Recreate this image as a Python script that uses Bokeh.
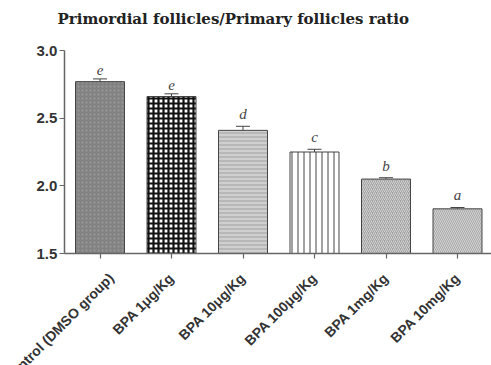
import math
from bokeh.plotting import figure
from bokeh.models import ColumnDataSource, Range1d, FixedTicker, NumeralTickFormatter, Whisker, Label
from bokeh.core.properties import value
from bokeh.embed import file_html
from bokeh.resources import INLINE

groups = ["Control (DMSO group)", "BPA 1μg/Kg", "BPA 10μg/Kg", "BPA 100μg/Kg", "BPA 1mg/Kg", "BPA 10mg/Kg"]
ratio = [2.77, 2.66, 2.41, 2.25, 2.05, 1.83]
sem = [0.02, 0.02, 0.03, 0.02, 0.01, 0.01]
letters = ["e", "e", "d", "c", "b", "a"]
y_ticks = [1.5, 2.0, 2.5, 3.0]
title = "Primordial follicles/Primary follicles ratio"

fills = ["#828282", "#ffffff", "#b8b8b8", "#ffffff", "#a2a2a2", "#a8a8a8"]
patterns = ["dot", "cross", "horizontal_line", "vertical_line", "right_diagonal_line", "left_diagonal_line"]
hcolors = ["#9a9a9a", "#111111", "#e6e6e6", "#444444", "#d2d2d2", "#d4d4d4"]
hscales = [4, 5, 4, 6, 4, 4]
hweights = [1, 2.2, 1, 1, 1, 1]

W, H = 491, 365
# layout targets (pixels): axis box left/right/top/bottom
ax_left, ax_right, ax_top, ax_bottom = 63.75, 492.75, 50, 253
n = len(groups)
px_per_x = (ax_right - ax_left) / n
px_per_y = (ax_bottom - ax_top) / (y_ticks[-1] - y_ticks[0])
x0 = -0.5 - ax_left / px_per_x
x1 = x0 + W / px_per_x
y1 = y_ticks[-1] + ax_top / px_per_y
y0 = y1 - H / px_per_y

xs = list(range(n))
src = ColumnDataSource(dict(
    x=xs, v=ratio,
    up=[a + b for a, b in zip(ratio, sem)],
    lo=[a - b for a, b in zip(ratio, sem)],
    lab=letters, fill=fills, pat=patterns, hc=hcolors, hs=hscales, hw=hweights,
))

p = figure(x_range=Range1d(x0, x1), y_range=Range1d(y0, y1),
           width=W, height=H, output_backend="svg", toolbar_location=None, min_border=0)
p.outline_line_color = None
p.xgrid.grid_line_color = None
p.ygrid.grid_line_color = None

p.vbar(x="x", top="v", bottom=y_ticks[0], width=0.685, source=src,
       fill_color="fill", line_color="#444444", line_width=1,
       hatch_pattern="pat", hatch_color="hc", hatch_scale="hs", hatch_weight="hw")

w = Whisker(base="x", upper="up", lower="lo", source=src, line_color="#444444",
            upper_head=None, lower_head=None)
p.add_layout(w)
w2 = Whisker(base="x", upper="up", lower="up", source=src, line_color="#444444")
w2.upper_head.size = 14
w2.upper_head.line_color = "#444444"
w2.lower_head = None
p.add_layout(w2)

p.text(x="x", y="up", text="lab", source=src, text_align="center", text_baseline="bottom",
       text_font=value("Liberation Serif"), text_font_style="italic", text_font_size="15px",
       text_color="#444444", y_offset=-4)

for ax in (p.xaxis[0], p.yaxis[0]):
    ax.axis_line_color = "#666666"
    ax.axis_line_width = 1.5
    ax.major_tick_line_color = "#666666"
    ax.major_tick_line_width = 1.2
    ax.major_tick_in = 0
    ax.major_tick_out = 5
    ax.minor_tick_line_color = None
    ax.major_label_text_font = "Liberation Sans"
    ax.major_label_text_font_style = "bold"
    ax.major_label_text_color = "#333333"

p.yaxis.fixed_location = -0.5
p.yaxis.bounds = (y_ticks[0], y_ticks[-1])
p.yaxis.ticker = FixedTicker(ticks=y_ticks)
p.yaxis.formatter = NumeralTickFormatter(format="0.0")
p.yaxis.major_label_text_font_size = "15px"
p.yaxis.major_label_standoff = 2

p.xaxis.fixed_location = y_ticks[0]
p.xaxis.bounds = (-0.5, n - 0.5)
p.xaxis.ticker = FixedTicker(ticks=xs)
p.xaxis.major_label_overrides = {i: g for i, g in zip(xs, groups)}
p.xaxis.major_label_orientation = math.pi / 4
p.xaxis.major_label_text_font_size = "14px"
p.xaxis.major_label_standoff = 17

p.add_layout(Label(x=57, y=H - 18, x_units="screen", y_units="screen", text=title,
                   text_align="left", text_baseline="middle",
                   text_font="DejaVu Serif", text_font_style="bold",
                   text_font_size="15px", text_color="#222222"))

open("out.html", "w").write(file_html(p, INLINE))
